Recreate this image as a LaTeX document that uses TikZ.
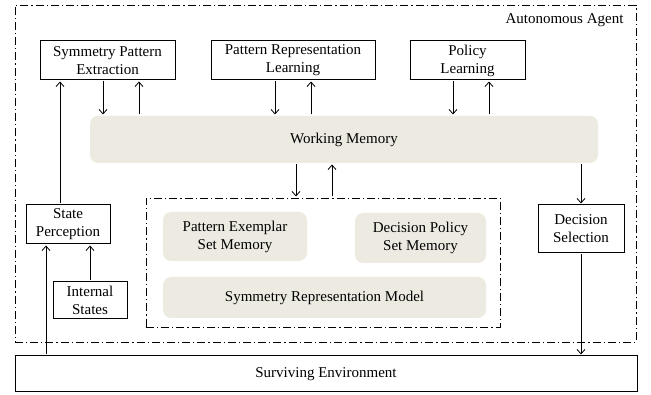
\documentclass[tikz,border=0pt]{standalone}
\usepackage{fontspec}
\setmainfont{Liberation Serif}
\usepackage{xcolor}
\usepackage{tikz}
\usetikzlibrary{arrows.meta,positioning,calc}
\definecolor{memfill}{HTML}{EDEBE1}
\tikzset{
  box/.style={draw, line width=1pt, align=center, inner sep=0pt, outer sep=0pt},
  membox/.style={fill=memfill, rounded corners=8pt, align=center, inner sep=0pt, outer sep=0pt},
  frame/.style={draw, line width=0.9pt, dash pattern=on 8pt off 3pt on 1.2pt off 3pt, inner sep=0pt, outer sep=0pt},
  line/.style={-{Straight Barb[length=4.5pt,width=8pt]}, line width=0.8pt, shorten >=1.5pt, shorten <=1.5pt}
}

\begin{document}
\begin{tikzpicture}[x=1pt,y=-1pt,font=\fontsize{15}{18}\selectfont]
        \useasboundingbox (0,0) rectangle (651,395);
        \node[frame, minimum width=621pt, minimum height=337pt] (agent) at (325.5,173.5) {};
        \node[anchor=east] (agentlbl) at (627,20) {Autonomous Agent};
        \node[box, minimum width=135pt, minimum height=39pt] (spe) at (107.5,60.5) {Symmetry Pattern\\Extraction};
        \node[box, minimum width=164pt, minimum height=39pt] (prl) at (293,60.5) {Pattern Representation\\Learning};
        \node[box, minimum width=115pt, minimum height=39pt] (pl) at (467.5,60.5) {Policy\\Learning};
        \node[membox, minimum width=508pt, minimum height=47pt] (wm) at (344,139.5) {Working Memory};
        \node[frame, minimum width=354pt, minimum height=129pt] (store) at (323,262.5) {};
        \node[membox, minimum width=144pt, minimum height=49pt] (pes) at (235,236.5) {Pattern Exemplar\\Set Memory};
        \node[membox, minimum width=131pt, minimum height=50pt] (dps) at (420.5,238) {Decision Policy\\Set Memory};
        \node[membox, minimum width=323pt, minimum height=41pt] (srm) at (324.5,297.5) {Symmetry Representation Model};
        \node[box, minimum width=84pt, minimum height=39pt] (sp) at (68,224.5) {State\\Perception};
        \node[box, minimum width=74pt, minimum height=37pt] (is) at (90,300.5) {Internal\\States};
        \node[box, minimum width=86pt, minimum height=48pt] (ds) at (581,229) {Decision\\Selection};
        \node[box, minimum width=622pt, minimum height=36pt] (env) at (326,374) {Surviving Environment};
        % learning modules <-> working memory
        \draw[line] ([xshift=-4.5pt]spe.south) -- ([xshift=-4.5pt]spe.south |- wm.north);
        \draw[line] ([xshift=31.5pt]spe.south |- wm.north) -- ([xshift=31.5pt]spe.south);
        \draw[line] ([xshift=-18pt]prl.south) -- ([xshift=-18pt]prl.south |- wm.north);
        \draw[line] ([xshift=18pt]prl.south |- wm.north) -- ([xshift=18pt]prl.south);
        \draw[line] ([xshift=-14.5pt]pl.south) -- ([xshift=-14.5pt]pl.south |- wm.north);
        \draw[line] ([xshift=21.5pt]pl.south |- wm.north) -- ([xshift=21.5pt]pl.south);
        % working memory <-> long-term store
        \draw[line] ([xshift=-48pt]wm.south) -- ([xshift=-48pt]wm.south |- store.north);
        \draw[line] ([xshift=-12pt]wm.south |- store.north) -- ([xshift=-12pt]wm.south);
        % perception side
        \draw[line] ([xshift=-8pt]sp.north) -- ([xshift=-8pt]sp.north |- spe.south);
        \draw[line] (is.north) -- (is.north |- sp.south);
        \draw[line] ([xshift=-22pt]sp.south |- env.north) -- ([xshift=-22pt]sp.south);
        % decision side
        \draw[line] (ds.north |- wm.south) -- (ds.north);
        \draw[line] (ds.south) -- (ds.south |- env.north);
      \end{tikzpicture}
\end{document}
